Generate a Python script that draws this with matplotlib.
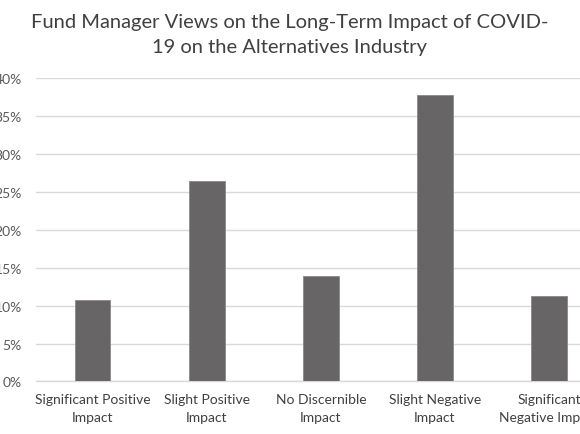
import matplotlib
matplotlib.use("Agg")
import matplotlib.pyplot as plt
from matplotlib.ticker import PercentFormatter, MultipleLocator

# data
categories = [
    "Significant Positive\nImpact",
    "Slight Positive\nImpact",
    "No Discernible\nImpact",
    "Slight Negative\nImpact",
    "Significant\nNegative Impact",
]
shares = [10.7, 26.4, 13.9, 37.8, 11.3]  # percent of fund managers

title = "Fund Manager Views on the Long-Term Impact of COVID-\n19 on the Alternatives Industry"

plt.rcParams["font.family"] = ["Lato", "DejaVu Sans"]

fig = plt.figure(figsize=(5.8, 4.35), dpi=100)
# the original screenshot is cropped on the left and right, so the axes run past the figure edge
ax = fig.add_axes([0.0617, 0.1207, 0.983, 0.6977])

x = range(len(categories))
ax.bar(x, shares, width=0.31, color="#676565", edgecolor="#8a8888", linewidth=0.6, zorder=3)

ax.set_xlim(-0.5, len(categories) - 0.5)
ax.set_ylim(0, 40)
ax.yaxis.set_major_locator(MultipleLocator(5))
ax.yaxis.set_major_formatter(PercentFormatter(decimals=0))
ax.grid(axis="y", color="#d9d9d9", linewidth=1.0, zorder=0)

for side in ("top", "right", "left"):
    ax.spines[side].set_visible(False)
ax.spines["bottom"].set_color("#d9d9d9")
ax.spines["bottom"].set_linewidth(1.0)

ax.set_xticks(list(x))
ax.set_xticklabels(categories, fontsize=10, color="#404040", linespacing=1.6)
ax.tick_params(axis="x", length=0, pad=8)
ax.tick_params(axis="y", length=0, pad=10, labelsize=10, labelcolor="#595959")

fig.text(0.5, 0.967, title, ha="center", va="top", fontsize=14.5, color="#404040",
         linespacing=1.55)

fig.savefig("out.png", dpi=100)
